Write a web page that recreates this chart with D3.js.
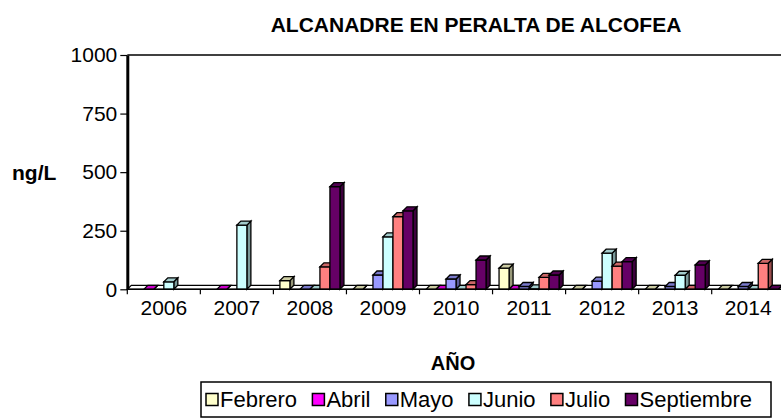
<!DOCTYPE html>
<html>
<head>
<meta charset="UTF-8">
<style>
    body { margin: 0; background: #ffffff; }
    svg { display: block; font-family: "Liberation Sans", Arial, sans-serif; }
</style>
</head>
<body>
<svg id="chart" width="781" height="418"></svg>
<script src="https://cdn.jsdelivr.net/npm/d3@7"></script>
<script>
// data (null = no sample, 0 = flat bar)
var years = ["2006", "2007", "2008", "2009", "2010", "2011", "2012", "2013", "2014"];
var seriesNames = ["Febrero", "Abril", "Mayo", "Junio", "Julio", "Septiembre"];
var seriesColors = ["#FFFFCC", "#FF00FF", "#9999FF", "#CCFFFF", "#FF8080", "#660066"];
var febrero    = [null, null, 37, 0, 0, 90, 0, 0, 0];
var abril      = [0, 0, null, null, 0, 0, null, null, null];
var mayo       = [null, null, 0, 61, 44, 12, 35, 12, 12];
var junio      = [32, 274, 0, 224, 0, 2, 154, 60, 0];
var julio      = [null, null, 96, 310, 20, 51, 99, 0, 111];
var septiembre = [null, null, 438, 335, 125, 61, 118, 104, 0];
var yTicks = [0, 250, 500, 750, 1000];

var allSeries = [febrero, abril, mayo, junio, julio, septiembre];

var svg = d3.select("#chart");

var plotLeft = 127.3, plotBottom = 289.3, plotTop = 55;
var depthX = 4, depthY = 4;

var x = d3.scaleBand().domain(years).range([plotLeft, plotLeft + 9 * 73.05]).paddingInner(0).paddingOuter(0);
var xs = d3.scaleBand().domain(seriesNames).range([0, x.bandwidth()]).paddingInner(0).paddingOuter(0.65);
var y = d3.scaleLinear().domain([0, 1000]).range([plotBottom, plotTop]);

function shade(c, k) {
    var col = d3.rgb(c);
    return d3.rgb(col.r * k, col.g * k, col.b * k).toString();
}

// top border of the plot
svg.append("line")
    .attr("x1", plotLeft).attr("x2", 781)
    .attr("y1", plotTop).attr("y2", plotTop)
    .attr("stroke", "#000").attr("stroke-width", 1.5);

// floor
svg.append("polygon")
    .attr("points", [[plotLeft, plotBottom], [790, plotBottom], [790 + depthX, plotBottom - depthY], [plotLeft + depthX, plotBottom - depthY]].join(" "))
    .attr("fill", "#fff").attr("stroke", "#000").attr("stroke-width", 1.2);

// bars
var bars = [];
years.forEach(function(yr, i) {
    seriesNames.forEach(function(s, j) {
        var v = allSeries[j][i];
        if (v === null) return;
        bars.push({year: yr, series: s, value: v, color: seriesColors[j]});
    });
});

var g = svg.append("g");
bars.forEach(function(d) {
    var x0 = x(d.year) + xs(d.series);
    var w = xs.bandwidth();
    var y0 = y(d.value);
    var bar = g.append("g");
    // side
    bar.append("polygon")
        .attr("points", [[x0 + w, plotBottom], [x0 + w + depthX, plotBottom - depthY], [x0 + w + depthX, y0 - depthY], [x0 + w, y0]].join(" "))
        .attr("fill", shade(d.color, 0.6)).attr("stroke", "#000").attr("stroke-width", 1.3);
    // front
    if (plotBottom - y0 > 0.5) {
        bar.append("rect")
            .attr("x", x0).attr("y", y0)
            .attr("width", w).attr("height", plotBottom - y0)
            .attr("fill", d.color).attr("stroke", "#000").attr("stroke-width", 1.3);
    }
    // top
    bar.append("polygon")
        .attr("points", [[x0, y0], [x0 + w, y0], [x0 + w + depthX, y0 - depthY], [x0 + depthX, y0 - depthY]].join(" "))
        .attr("fill", shade(d.color, 0.8)).attr("stroke", "#000").attr("stroke-width", 1.3);
});

// y axis
var yAxis = svg.append("g")
    .attr("transform", "translate(" + plotLeft + ",0)")
    .call(d3.axisLeft(y).tickValues(yTicks).tickFormat(d3.format("d")).tickSize(7).tickPadding(3).tickSizeOuter(0));
yAxis.select(".domain").attr("stroke-width", 3);
yAxis.selectAll(".tick line").attr("stroke-width", 1.2);
yAxis.selectAll(".tick text")
    .attr("font-size", "21px").attr("fill", "#000")
    .style("font-family", "'Liberation Sans', Arial, sans-serif");

// x axis: labels centred, ticks between years
var xAxis = svg.append("g")
    .attr("transform", "translate(0," + plotBottom + ")")
    .call(d3.axisBottom(x).tickSize(0).tickPadding(11));
xAxis.select(".domain").attr("stroke-width", 1.5).attr("d", "M" + plotLeft + ",0H781");
xAxis.selectAll(".tick text")
    .attr("font-size", "21px").attr("fill", "#000")
    .style("font-family", "'Liberation Sans', Arial, sans-serif");
xAxis.selectAll(".sep").data(years).enter()
    .append("line")
    .attr("x1", function(d) { return x(d); }).attr("x2", function(d) { return x(d); })
    .attr("y1", 0).attr("y2", 5)
    .attr("stroke", "#000").attr("stroke-width", 1.2);

// titles
svg.append("text")
    .attr("x", 476).attr("y", 31.7)
    .attr("text-anchor", "middle")
    .attr("font-size", "21px").attr("font-weight", "bold")
    .text("ALCANADRE EN PERALTA DE ALCOFEA");

svg.append("text")
    .attr("x", 12).attr("y", 180)
    .attr("font-size", "21px").attr("font-weight", "bold")
    .text("ng/L");

svg.append("text")
    .attr("x", 453).attr("y", 370)
    .attr("text-anchor", "middle")
    .attr("font-size", "20px").attr("font-weight", "bold")
    .text("AÑO");

// legend
var legend = svg.append("g");
legend.append("rect")
    .attr("x", 201).attr("y", 382)
    .attr("width", 570).attr("height", 35)
    .attr("fill", "#fff").attr("stroke", "#000").attr("stroke-width", 1.5);

var items = legend.selectAll(".item").data(seriesNames).enter()
    .append("g").attr("class", "item");
items.append("rect")
    .attr("width", 12).attr("height", 12)
    .attr("y", 393.5)
    .attr("fill", function(d, i) { return seriesColors[i]; })
    .attr("stroke", "#000").attr("stroke-width", 1.5);
items.append("text")
    .attr("y", 406.5)
    .attr("font-size", "22px")
    .text(function(d) { return d; });

var widths = [];
items.select("text").each(function() { widths.push(this.getComputedTextLength()); });
var startX = 206, endX = 752;
var used = d3.sum(widths) + seriesNames.length * 14;
var gap = (endX - startX - used) / (seriesNames.length - 1);
var cx = startX;
items.each(function(d, i) {
    var it = d3.select(this);
    it.select("rect").attr("x", cx);
    it.select("text").attr("x", cx + 14);
    cx += 14 + widths[i] + gap;
});
</script>
</body>
</html>
